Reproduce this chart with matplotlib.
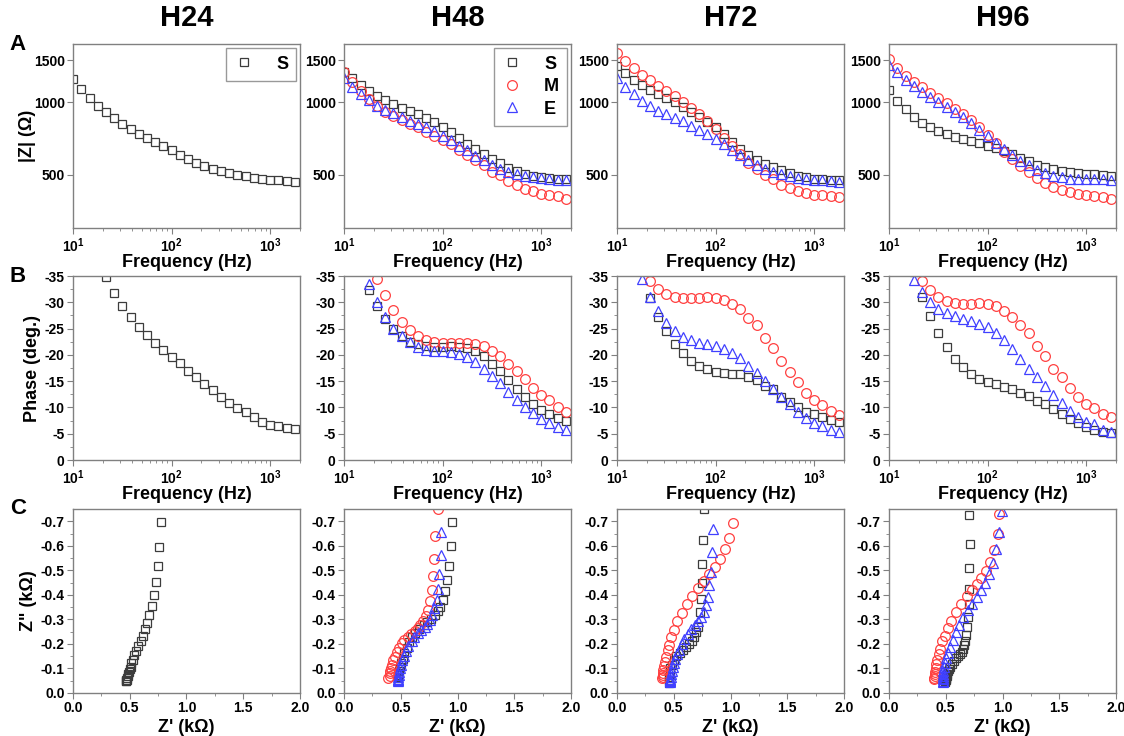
import numpy as np
import matplotlib
matplotlib.use("Agg")
from matplotlib import pyplot as plt
from matplotlib.ticker import LogLocator, NullFormatter, FixedLocator

plt.rcParams['font.family'] = ['Liberation Sans', 'DejaVu Sans']
plt.rcParams['font.weight'] = 'bold'
plt.rcParams['axes.labelweight'] = 'bold'
plt.rcParams['mathtext.fontset'] = 'custom'
plt.rcParams['mathtext.rm'] = 'Liberation Sans:bold'
plt.rcParams['mathtext.it'] = 'Liberation Sans:bold'
plt.rcParams['mathtext.bf'] = 'Liberation Sans:bold'

# Frequencies (Hz), 12 points per decade
freq = [10.0, 12.1, 14.7, 17.8, 21.5, 26.1, 31.6, 38.3, 46.4, 56.2, 68.1, 82.5, 100.0, 121.0,
        147.0, 178.0, 215.0, 261.0, 316.0, 383.0, 464.0, 562.0, 681.0, 825.0, 1000.0, 1210.0,
        1470.0, 1780.0]

# |Z| (ohm)
zmod_h24_s = [1253, 1134, 1040, 966, 908, 858, 815, 778, 742, 714, 683, 656, 632, 604, 580, 561, 543, 529, 518, 508, 499, 492, 486, 480, 475, 473, 470, 466]
zmod_h48_s = [1340, 1260, 1182, 1116, 1060, 1020, 981, 950, 920, 891, 858, 828, 789, 756, 712, 674, 638, 610, 580, 557, 535, 520, 505, 494, 487, 484, 481, 478]
zmod_h48_m = [1344, 1220, 1116, 1030, 965, 914, 877, 844, 812, 787, 756, 728, 700, 672, 636, 606, 574, 551, 515, 497, 470, 454, 438, 426, 416, 411, 407, 397]
zmod_h48_e = [1260, 1155, 1080, 1023, 968, 929, 900, 866, 838, 812, 787, 759, 728, 696, 659, 632, 600, 574, 549, 528, 513, 505, 494, 487, 484, 479, 476, 475]
zmod_h72_s = [1424, 1322, 1240, 1178, 1126, 1084, 1043, 1003, 953, 911, 866, 828, 787, 737, 683, 642, 604, 578, 556, 538, 521, 508, 495, 487, 482, 478, 475, 473]
zmod_h72_m = [1613, 1494, 1392, 1305, 1236, 1174, 1116, 1060, 1003, 947, 891, 833, 774, 714, 656, 608, 559, 529, 498, 478, 455, 440, 427, 418, 412, 410, 406, 403]
zmod_h72_e = [1260, 1163, 1080, 1016, 962, 923, 891, 863, 833, 801, 771, 740, 705, 668, 632, 604, 574, 549, 528, 513, 503, 494, 485, 478, 475, 473, 470, 468]
zmod_h96_s = [1126, 1016, 935, 871, 820, 789, 759, 740, 721, 705, 691, 676, 661, 644, 626, 608, 585, 570, 551, 538, 528, 520, 515, 510, 505, 502, 498, 495]
zmod_h96_m = [1513, 1397, 1293, 1213, 1155, 1091, 1040, 990, 938, 894, 844, 792, 733, 680, 622, 582, 542, 513, 483, 464, 445, 433, 423, 417, 411, 409, 402, 398]
zmod_h96_e = [1434, 1335, 1240, 1170, 1108, 1056, 1006, 959, 914, 866, 817, 771, 723, 680, 638, 602, 570, 547, 524, 508, 494, 487, 482, 479, 479, 478, 478, 476]

# Phase (deg.)
phase_h24_s = [-50, -46, -42, -38, -34.8, -31.8, -29.3, -27.2, -25.3, -23.7, -22.3, -20.9, -19.6, -18.4, -17.0, -15.8, -14.4, -13.4, -12.0, -10.9, -9.9, -9.1, -8.1, -7.3, -6.6, -6.4, -6.1, -5.9]
phase_h48_s = [-45, -40, -36, -32.4, -29.2, -26.8, -25.0, -23.6, -22.5, -22.0, -21.6, -21.5, -21.5, -21.6, -21.5, -21.3, -20.8, -19.7, -18.3, -17.0, -15.2, -13.6, -12.0, -10.6, -9.5, -8.8, -8.0, -7.5]
phase_h48_m = [-50, -46, -42.4, -38.5, -34.5, -31.3, -28.5, -26.3, -24.8, -23.5, -22.8, -22.5, -22.2, -22.2, -22.2, -22.3, -22.0, -21.6, -20.8, -19.7, -18.2, -17.0, -15.4, -13.7, -12.4, -11.4, -10.1, -9.2]
phase_h48_e = [-45, -41, -37.3, -33.4, -30.1, -27.2, -25.0, -23.5, -22.4, -21.5, -21.0, -20.8, -20.7, -20.5, -20.1, -19.5, -18.7, -17.4, -16.0, -14.7, -13.0, -11.5, -10.1, -8.9, -7.8, -7.0, -6.3, -5.7]
phase_h72_s = [-45, -41, -38, -36, -30.9, -27.2, -24.5, -22.0, -20.3, -18.8, -17.8, -17.3, -16.8, -16.6, -16.3, -16.3, -15.8, -15.2, -14.1, -13.5, -12.0, -11.1, -10.1, -9.2, -8.7, -8.2, -7.7, -7.3]
phase_h72_m = [-48, -43, -39, -36, -34.1, -32.5, -31.6, -31.0, -30.8, -30.8, -30.9, -31.0, -30.8, -30.5, -29.7, -28.7, -27.1, -25.6, -23.2, -21.3, -18.9, -16.8, -14.8, -12.8, -11.4, -10.4, -9.3, -8.5]
phase_h72_e = [-48, -43, -38.2, -34.4, -31.0, -28.4, -26.1, -24.6, -23.4, -22.8, -22.3, -22.0, -21.6, -21.2, -20.4, -19.4, -17.8, -16.6, -15.0, -13.6, -11.9, -10.6, -9.2, -7.9, -7.0, -6.5, -5.8, -5.4]
phase_h96_s = [-52, -45.7, -40.6, -35.7, -31.0, -27.4, -24.1, -21.4, -19.3, -17.6, -16.3, -15.4, -14.8, -14.4, -13.9, -13.5, -12.8, -12.2, -11.3, -10.6, -9.7, -8.7, -7.8, -7.0, -6.3, -5.8, -5.4, -5.2]
phase_h96_m = [-48, -43, -40, -37.1, -34.1, -32.3, -31.0, -30.3, -29.9, -29.7, -29.7, -29.8, -29.6, -29.2, -28.3, -27.2, -25.6, -24.2, -21.6, -19.8, -17.4, -15.7, -13.7, -12.0, -10.6, -9.8, -8.7, -8.1]
phase_h96_e = [-44, -40, -36.7, -34.2, -32.0, -30.1, -28.8, -28.0, -27.3, -26.8, -26.4, -25.9, -25.3, -24.2, -22.8, -21.2, -19.3, -17.4, -15.7, -14.1, -12.3, -10.8, -9.3, -8.1, -7.3, -6.8, -5.8, -5.4]

# Nyquist: Z' and Z'' (kohm), visible points only
zre_h24_s = [0.773, 0.761, 0.745, 0.729, 0.711, 0.692, 0.671, 0.654, 0.632, 0.613, 0.595, 0.573, 0.555, 0.540, 0.526, 0.515, 0.507, 0.499, 0.492, 0.486, 0.481, 0.476, 0.472, 0.470, 0.467, 0.464]
zim_h24_s = [-0.696, -0.595, -0.518, -0.452, -0.399, -0.356, -0.317, -0.287, -0.259, -0.234, -0.212, -0.191, -0.170, -0.153, -0.135, -0.123, -0.108, -0.096, -0.086, -0.078, -0.068, -0.061, -0.055, -0.053, -0.050, -0.048]
zre_h48_s = [0.955, 0.942, 0.925, 0.911, 0.889, 0.870, 0.850, 0.826, 0.798, 0.770, 0.734, 0.703, 0.662, 0.628, 0.597, 0.574, 0.551, 0.533, 0.516, 0.505, 0.494, 0.486, 0.480, 0.478, 0.476, 0.474]
zim_h48_s = [-0.696, -0.598, -0.517, -0.460, -0.415, -0.380, -0.352, -0.334, -0.316, -0.303, -0.289, -0.278, -0.261, -0.245, -0.227, -0.206, -0.182, -0.163, -0.140, -0.122, -0.105, -0.091, -0.080, -0.074, -0.067, -0.062]
zre_h48_m = [0.825, 0.806, 0.795, 0.781, 0.771, 0.757, 0.737, 0.722, 0.697, 0.673, 0.648, 0.622, 0.589, 0.561, 0.532, 0.512, 0.482, 0.468, 0.447, 0.434, 0.422, 0.414, 0.406, 0.403, 0.401, 0.392]
zim_h48_m = [-0.752, -0.641, -0.546, -0.475, -0.418, -0.374, -0.340, -0.314, -0.293, -0.279, -0.264, -0.254, -0.240, -0.230, -0.215, -0.203, -0.183, -0.168, -0.147, -0.133, -0.116, -0.101, -0.089, -0.081, -0.071, -0.063]
zre_h48_e = [0.859, 0.854, 0.837, 0.826, 0.815, 0.794, 0.775, 0.755, 0.735, 0.710, 0.681, 0.652, 0.619, 0.596, 0.568, 0.548, 0.528, 0.511, 0.500, 0.495, 0.487, 0.481, 0.480, 0.475, 0.473, 0.473]
zim_h48_e = [-0.655, -0.563, -0.485, -0.425, -0.381, -0.345, -0.319, -0.298, -0.282, -0.269, -0.257, -0.244, -0.227, -0.211, -0.192, -0.172, -0.152, -0.134, -0.115, -0.101, -0.087, -0.075, -0.066, -0.058, -0.052, -0.047]
zre_h72_s = [0.765, 0.756, 0.750, 0.745, 0.741, 0.729, 0.712, 0.700, 0.682, 0.662, 0.638, 0.612, 0.582, 0.553, 0.524, 0.500, 0.485, 0.470, 0.465, 0.460, 0.456, 0.456]
zim_h72_s = [-0.748, -0.625, -0.525, -0.450, -0.382, -0.332, -0.270, -0.250, -0.229, -0.213, -0.199, -0.188, -0.177, -0.165, -0.151, -0.134, -0.116, -0.100, -0.082, -0.065, -0.052, -0.041]
zre_h72_m = [1.023, 0.990, 0.951, 0.908, 0.862, 0.813, 0.765, 0.714, 0.665, 0.615, 0.570, 0.533, 0.498, 0.477, 0.458, 0.445, 0.430, 0.421, 0.413, 0.408, 0.404, 0.403, 0.401, 0.399]
zim_h72_m = [-0.693, -0.631, -0.585, -0.546, -0.513, -0.485, -0.458, -0.429, -0.396, -0.362, -0.325, -0.292, -0.255, -0.229, -0.196, -0.174, -0.147, -0.127, -0.109, -0.093, -0.082, -0.074, -0.066, -0.060]
zre_h72_e = [0.849, 0.838, 0.824, 0.812, 0.800, 0.785, 0.765, 0.738, 0.713, 0.686, 0.656, 0.623, 0.592, 0.570, 0.546, 0.526, 0.510, 0.499, 0.492, 0.486, 0.479, 0.473, 0.471, 0.470, 0.468, 0.466]
zim_h72_e = [-0.668, -0.574, -0.495, -0.439, -0.392, -0.359, -0.331, -0.310, -0.293, -0.277, -0.260, -0.242, -0.220, -0.201, -0.176, -0.157, -0.137, -0.121, -0.104, -0.091, -0.078, -0.066, -0.058, -0.054, -0.047, -0.044]
zre_h96_s = [0.709, 0.710, 0.707, 0.703, 0.701, 0.693, 0.689, 0.680, 0.672, 0.663, 0.652, 0.639, 0.624, 0.608, 0.591, 0.570, 0.557, 0.540, 0.529, 0.520, 0.514, 0.510, 0.506, 0.502, 0.499, 0.496, 0.493]
zim_h96_s = [-0.727, -0.608, -0.509, -0.422, -0.363, -0.310, -0.270, -0.238, -0.213, -0.194, -0.180, -0.169, -0.160, -0.150, -0.142, -0.130, -0.120, -0.108, -0.099, -0.089, -0.079, -0.070, -0.062, -0.056, -0.051, -0.047, -0.045]
zre_h96_m = [0.968, 0.956, 0.922, 0.891, 0.855, 0.813, 0.777, 0.733, 0.687, 0.637, 0.594, 0.548, 0.518, 0.489, 0.468, 0.449, 0.437, 0.425, 0.417, 0.411, 0.408, 0.404, 0.403, 0.397, 0.394]
zim_h96_m = [-0.731, -0.647, -0.583, -0.536, -0.499, -0.468, -0.443, -0.418, -0.394, -0.362, -0.332, -0.295, -0.266, -0.234, -0.210, -0.178, -0.157, -0.133, -0.117, -0.100, -0.087, -0.076, -0.070, -0.061, -0.056]
zre_h96_e = [0.994, 0.968, 0.940, 0.913, 0.881, 0.847, 0.812, 0.773, 0.732, 0.694, 0.654, 0.620, 0.588, 0.561, 0.538, 0.522, 0.504, 0.493, 0.483, 0.478, 0.476, 0.474, 0.475, 0.475, 0.476, 0.474]
zim_h96_e = [-0.741, -0.658, -0.587, -0.530, -0.485, -0.450, -0.419, -0.391, -0.363, -0.337, -0.309, -0.279, -0.247, -0.218, -0.188, -0.164, -0.142, -0.124, -0.105, -0.091, -0.078, -0.068, -0.061, -0.056, -0.048, -0.045]

columns = ["H24", "H48", "H72", "H96"]
series = {
    "H24": [("S", zmod_h24_s, phase_h24_s, zre_h24_s, zim_h24_s)],
    "H48": [("S", zmod_h48_s, phase_h48_s, zre_h48_s, zim_h48_s),
            ("M", zmod_h48_m, phase_h48_m, zre_h48_m, zim_h48_m),
            ("E", zmod_h48_e, phase_h48_e, zre_h48_e, zim_h48_e)],
    "H72": [("S", zmod_h72_s, phase_h72_s, zre_h72_s, zim_h72_s),
            ("M", zmod_h72_m, phase_h72_m, zre_h72_m, zim_h72_m),
            ("E", zmod_h72_e, phase_h72_e, zre_h72_e, zim_h72_e)],
    "H96": [("S", zmod_h96_s, phase_h96_s, zre_h96_s, zim_h96_s),
            ("M", zmod_h96_m, phase_h96_m, zre_h96_m, zim_h96_m),
            ("E", zmod_h96_e, phase_h96_e, zre_h96_e, zim_h96_e)],
}

marker_style = {
    "S": dict(marker="s", mec="#3c3c3c", ms=6.2),
    "M": dict(marker="o", mec="#ff4040", ms=7.0),
    "E": dict(marker="^", mec="#4040ff", ms=7.2),
}

W, H = 1124, 736
fig = plt.figure(figsize=(W / 100, H / 100), dpi=100)

col_left = [73, 344, 617, 889]
row_top = [44, 276, 509]
ax_w, ax_h = 227, 184
frame_color = "#808080"


def make_axes(col, row):
    x0 = col_left[col] / W
    y0 = 1 - (row_top[row] + ax_h) / H
    ax = fig.add_axes([x0, y0, ax_w / W, ax_h / H])
    for s in ax.spines.values():
        s.set_color(frame_color)
        s.set_linewidth(1.0)
    ax.tick_params(which="both", direction="out", color=frame_color, labelsize=10,
                   top=False, right=False, pad=2)
    ax.tick_params(which="major", length=4)
    ax.tick_params(which="minor", length=2)
    return ax


def draw(ax, x, y, key):
    ax.plot(x, y, ls="none", mfc="none", mew=0.9, label=key, **marker_style[key])


def freq_axis(ax):
    ax.set_xscale("log")
    ax.set_xlim(10, 2000)
    ax.xaxis.set_major_locator(FixedLocator([10, 100, 1000]))
    ax.set_xticklabels([r"$\mathrm{10^{1}}$", r"$\mathrm{10^{2}}$", r"$\mathrm{10^{3}}$"])
    ax.xaxis.set_minor_locator(LogLocator(base=10, subs=np.arange(2, 10)))
    ax.xaxis.set_minor_formatter(NullFormatter())
    ax.set_xlabel("Frequency (Hz)", fontsize=13)
    ax.xaxis.set_label_coords(0.5, -0.14)


for c, name in enumerate(columns):
    # Row A: |Z|
    ax = make_axes(c, 0)
    for key, zmod, phase, zre, zim in series[name]:
        draw(ax, freq, zmod, key)
    freq_axis(ax)
    ax.set_yscale("log")
    ax.set_ylim(300, 1750)
    ax.yaxis.set_major_locator(FixedLocator([500, 1000, 1500]))
    ax.set_yticklabels(["500", "1000", "1500"])
    ax.yaxis.set_minor_locator(FixedLocator([]))
    ax.yaxis.set_minor_formatter(NullFormatter())
    if c == 0:
        ax.set_ylabel("|Z| (\u03a9)", fontsize=13)
        ax.yaxis.set_label_coords(-0.165, 0.5)
    if c < 2:
        leg = ax.legend(loc="upper right", fontsize=13, frameon=True, fancybox=False,
                        edgecolor=frame_color, handlelength=1.0, handletextpad=1.3,
                        borderpad=0.45, labelspacing=0.3, borderaxespad=0.2)
        leg.get_frame().set_linewidth(1.0)
    fig.text((col_left[c] + ax_w / 2) / W, 1 - 18 / H, name, ha="center", va="center",
             fontsize=21, fontweight="bold")

    # Row B: phase
    ax = make_axes(c, 1)
    for key, zmod, phase, zre, zim in series[name]:
        draw(ax, freq, phase, key)
    freq_axis(ax)
    ax.set_ylim(0, -35)
    ax.yaxis.set_major_locator(FixedLocator([0, -5, -10, -15, -20, -25, -30, -35]))
    ax.set_yticklabels(["0", "-5", "-10", "-15", "-20", "-25", "-30", "-35"])
    ax.yaxis.set_minor_locator(FixedLocator([-2.5, -7.5, -12.5, -17.5, -22.5, -27.5, -32.5]))
    if c == 0:
        ax.set_ylabel("Phase (deg.)", fontsize=13)
        ax.yaxis.set_label_coords(-0.14, 0.5)

    # Row C: Nyquist
    ax = make_axes(c, 2)
    for key, zmod, phase, zre, zim in series[name]:
        draw(ax, zre, zim, key)
    ax.set_xlim(0, 2.0)
    ax.set_ylim(0, -0.75)
    ax.xaxis.set_major_locator(FixedLocator([0, 0.5, 1.0, 1.5, 2.0]))
    ax.set_xticklabels(["0.0", "0.5", "1.0", "1.5", "2.0"])
    ax.xaxis.set_minor_locator(FixedLocator([0.25, 0.75, 1.25, 1.75]))
    ax.yaxis.set_major_locator(FixedLocator([0, -0.1, -0.2, -0.3, -0.4, -0.5, -0.6, -0.7]))
    ax.set_yticklabels(["0.0", "-0.1", "-0.2", "-0.3", "-0.4", "-0.5", "-0.6", "-0.7"])
    ax.yaxis.set_minor_locator(FixedLocator([-0.05, -0.15, -0.25, -0.35, -0.45, -0.55, -0.65]))
    ax.set_xlabel("Z' (k\u03a9)", fontsize=13)
    ax.xaxis.set_label_coords(0.5, -0.14)
    if c == 0:
        ax.set_ylabel('Z" (k\u03a9)', fontsize=13)
        ax.yaxis.set_label_coords(-0.16, 0.5)

for letter, ypix in [("A", 45), ("B", 276), ("C", 509)]:
    fig.text(18 / W, 1 - ypix / H, letter, ha="center", va="center", fontsize=16, fontweight="bold")

fig.savefig("out.png", dpi=100)
